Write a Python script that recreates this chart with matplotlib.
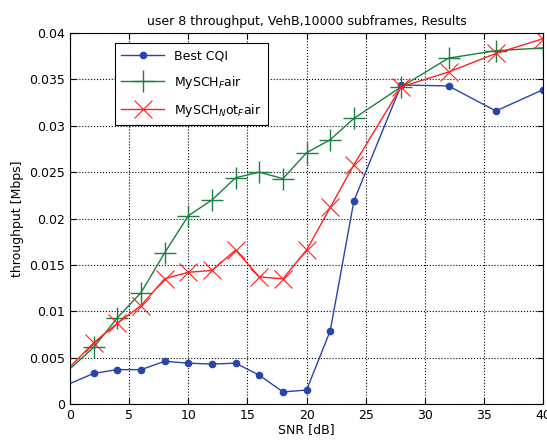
import numpy as np
import matplotlib.pyplot as plt

snr = [0, 2, 4, 6, 8, 10, 12, 14, 16, 18, 20, 22, 24, 28, 32, 36, 40]
best_cqi = [0.0022, 0.0033, 0.0037, 0.0037, 0.0046, 0.0044, 0.0043, 0.0044, 0.0031,
            0.0013, 0.0015, 0.0079, 0.0219, 0.0344, 0.0343, 0.0316, 0.0339]
mysch_fair = [0.0038, 0.0061, 0.0093, 0.0120, 0.0163, 0.0203, 0.0220, 0.0244, 0.0250,
              0.0243, 0.0271, 0.0285, 0.0308, 0.0342, 0.0373, 0.0381, 0.0384]
mysch_notfair = [0.0040, 0.0066, 0.0087, 0.0106, 0.0135, 0.0142, 0.0144, 0.0166, 0.0137,
                 0.0135, 0.0166, 0.0212, 0.0258, 0.0342, 0.0358, 0.0378, 0.0394]

fig = plt.figure(figsize=(5.47, 4.41), dpi=100)
ax = fig.add_axes([0.128, 0.084, 0.865, 0.841])

# no marker shown at the first sample in the original
marks = list(range(1, len(snr)))

ax.plot(snr, best_cqi, '-o', color='#2a45a8', markersize=4.5, linewidth=1,
        markevery=marks, label='Best CQI')
ax.plot(snr, mysch_fair, '-+', color='#1a8040', markersize=16, markeredgewidth=1,
        linewidth=1, markevery=marks, label='MySCH$_F$air')
ax.plot(snr, mysch_notfair, '-x', color='#ff2020', markersize=13, markeredgewidth=0.8,
        linewidth=1, markevery=marks, label='MySCH$_N$ot$_F$air')

ax.set_xlim(0, 40)
ax.set_ylim(0, 0.04)
ax.set_xticks(np.arange(0, 41, 5))
ax.set_yticks(np.arange(0, 0.0401, 0.005))
ax.set_yticklabels(['0', '0.005', '0.01', '0.015', '0.02', '0.025', '0.03', '0.035', '0.04'])
ax.tick_params(direction='in', labelsize=9, length=4, top=True, right=True)
ax.grid(True, linestyle=':', color='black', linewidth=0.8)

ax.set_title('user 8 throughput, VehB,10000 subframes, Results', fontsize=9)
ax.set_xlabel('SNR [dB]', fontsize=9, labelpad=1)
ax.set_ylabel('throughput [Mbps]', fontsize=9)

leg = ax.legend(loc='upper left', bbox_to_anchor=(0.082, 0.99), fontsize=9,
                fancybox=False, framealpha=1, edgecolor='black', borderpad=0.5,
                handlelength=3.4, labelspacing=0.9)
leg.get_frame().set_linewidth(0.8)

fig.savefig('out.png', dpi=100)
